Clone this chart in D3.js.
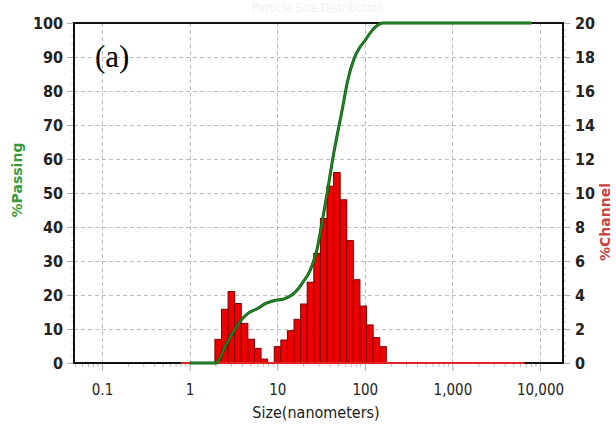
<!DOCTYPE html>
<html>
<head>
<meta charset="utf-8">
<script src="https://cdn.jsdelivr.net/npm/d3@7"></script>
<style>
	body { margin: 0; background: #fff; }
	svg { display: block; }
</style>
</head>
<body>
<div id="chart"></div>
<script>
// channel edges (nm) and %channel in each bin
var channelEdges = [1.945, 2.312, 2.750, 3.270, 3.889, 4.625, 5.500, 6.541, 7.778, 9.250, 11.00, 13.08, 15.56,
	18.50, 22.00, 26.16, 31.11, 37.00, 44.00, 52.33, 62.23, 74.00, 88.00, 104.7, 124.5, 148.0, 176.0];
var channelPct = [1.39, 3.16, 4.2, 3.5, 2.33, 1.4, 0.86, 0.23, 0, 0.96, 1.35, 1.9, 2.57, 3.47, 4.75, 6.45, 8.5,
	10.4, 11.2, 9.6, 7.2, 4.9, 3.35, 2.24, 1.49, 0.96];
// cumulative %passing curve
var passSize = [1.0, 2.0, 2.6, 3.25, 3.88, 4.64, 6.05, 7.21, 9.84, 11.75, 16.0, 19.1, 23.9, 28.5, 32.6, 37.2,
	42.5, 56.5, 63.3, 75.6, 86.4, 98.6, 117.6, 140.6, 160.6, 8000];
var passPct = [0, 0, 5.3, 9.7, 12.6, 14.6, 16.1, 17.4, 18.5, 18.8, 20.8, 23.3, 27.4, 33.5, 41.5, 50,
	59.2, 75.9, 82.7, 89.6, 92.6, 94.5, 97.4, 99.4, 100, 100];
// measured range (zero baseline)
var rangeSize = [0.79, 6650];
// tick labels
var xTicks = [0.1, 1, 10, 100, 1000, 10000];
var xTickLabels = ['0.1', '1', '10', '100', '1,000', '10,000'];
var leftTicks = [0, 10, 20, 30, 40, 50, 60, 70, 80, 90, 100];
var rightTicks = [0, 2, 4, 6, 8, 10, 12, 14, 16, 18, 20];

var width = 616, height = 428;
var plot = { left: 74, right: 563, top: 23, bottom: 363 };

var svg = d3.select('#chart').append('svg')
	.attr('width', width)
	.attr('height', height);

// scales
var x = d3.scaleLog()
	.domain([0.0479, 18300])
	.range([plot.left, plot.right]);
var yL = d3.scaleLinear().domain([0, 100]).range([plot.bottom, plot.top]);
var yR = d3.scaleLinear().domain([0, 20]).range([plot.bottom, plot.top]);

var font = '"DejaVu Sans Condensed", "DejaVu Sans", sans-serif';

// faint title at the very top
svg.append('text')
	.attr('x', 318).attr('y', 12)
	.attr('text-anchor', 'middle')
	.attr('font-family', font)
	.attr('font-size', 12)
	.attr('fill', '#efefef')
	.text('Particle Size Distribution');

// grid
var grid = svg.append('g').attr('stroke', '#bdbdbd').attr('stroke-dasharray', '4,3').attr('stroke-width', 1);
grid.selectAll('line.h')
	.data(leftTicks.slice(1, -1))
	.enter().append('line')
	.attr('x1', plot.left).attr('x2', plot.right)
	.attr('y1', function (d) { return yL(d) + 0.5; })
	.attr('y2', function (d) { return yL(d) + 0.5; });
grid.selectAll('line.v')
	.data(xTicks)
	.enter().append('line')
	.attr('x1', function (d) { return Math.round(x(d)) + 0.5; })
	.attr('x2', function (d) { return Math.round(x(d)) + 0.5; })
	.attr('y1', plot.top).attr('y2', plot.bottom);

// axes (ticks + labels)
var leftAxis = d3.axisLeft(yL).tickValues(leftTicks).tickSize(7).tickPadding(4);
var rightAxis = d3.axisRight(yR).tickValues(rightTicks).tickSize(7).tickPadding(5);
var bottomAxis = d3.axisBottom(x).tickValues(xTicks)
	.tickFormat(function (d, i) { return xTickLabels[i]; })
	.tickSize(8).tickPadding(13);

function styleAxis(g) {
	g.select('.domain').remove();
	g.selectAll('.tick line').attr('stroke', '#aaa');
	g.selectAll('.tick text')
		.attr('font-family', font)
		.attr('fill', '#222');
}

svg.append('g')
	.attr('transform', 'translate(' + plot.left + ',0)')
	.call(leftAxis).call(styleAxis)
	.selectAll('.tick text').attr('font-size', 16).attr('font-weight', 'bold');
svg.append('g')
	.attr('transform', 'translate(' + plot.right + ',0)')
	.call(rightAxis).call(styleAxis)
	.selectAll('.tick text').attr('font-size', 16).attr('font-weight', 'bold');
svg.append('g')
	.attr('transform', 'translate(0,' + plot.bottom + ')')
	.call(bottomAxis).call(styleAxis)
	.selectAll('.tick text').attr('font-size', 15);

// minor ticks
var minorX = [];
xTicks.concat([0.01]).forEach(function (d) {
	for (var k = 2; k <= 9; k++) {
		var v = d * k;
		if (v > x.domain()[0] && v < x.domain()[1]) minorX.push(v);
	}
});
svg.append('g').selectAll('line')
	.data(minorX)
	.enter().append('line')
	.attr('x1', function (d) { return x(d); })
	.attr('x2', function (d) { return x(d); })
	.attr('y1', plot.bottom).attr('y2', plot.bottom + 4)
	.attr('stroke', '#bbb');
var minorY = d3.range(0, 101, 2);
svg.append('g').selectAll('line')
	.data(minorY)
	.enter().append('line')
	.attr('x1', plot.left - 3).attr('x2', plot.left)
	.attr('y1', function (d) { return yL(d); })
	.attr('y2', function (d) { return yL(d); })
	.attr('stroke', '#ccc');
svg.append('g').selectAll('line')
	.data(minorY)
	.enter().append('line')
	.attr('x1', plot.right).attr('x2', plot.right + 3)
	.attr('y1', function (d) { return yL(d); })
	.attr('y2', function (d) { return yL(d); })
	.attr('stroke', '#ccc');

// frame
svg.append('rect')
	.attr('x', plot.left).attr('y', plot.top)
	.attr('width', plot.right - plot.left).attr('height', plot.bottom - plot.top)
	.attr('fill', 'none')
	.attr('stroke', '#111')
	.attr('stroke-width', 2);

// histogram bars
var bins = channelPct.map(function (v, i) {
	return { x0: channelEdges[i], x1: channelEdges[i + 1], value: v };
}).filter(function (d) { return d.value > 0; });
svg.append('g').selectAll('rect')
	.data(bins)
	.enter().append('rect')
	.attr('x', function (d) { return x(d.x0); })
	.attr('width', function (d) { return x(d.x1) - x(d.x0); })
	.attr('y', function (d) { return yR(d.value); })
	.attr('height', function (d) { return yR(0) - yR(d.value); })
	.attr('fill', '#ee0000')
	.attr('stroke', '#7a0000')
	.attr('stroke-width', 1);

// zero baseline over measured range
svg.append('line')
	.attr('x1', x(rangeSize[0])).attr('x2', x(rangeSize[1]))
	.attr('y1', plot.bottom).attr('y2', plot.bottom)
	.attr('stroke', '#e02424')
	.attr('stroke-width', 2);

// %passing curve
var passData = passSize.map(function (s, i) { return [s, passPct[i]]; });
var line = d3.line()
	.x(function (d) { return x(d[0]); })
	.y(function (d) { return yL(d[1]); })
	.curve(d3.curveMonotoneX);
svg.append('path')
	.datum(passData)
	.attr('d', line)
	.attr('fill', 'none')
	.attr('stroke', '#0f5a14')
	.attr('stroke-width', 3);
svg.append('path')
	.datum(passData)
	.attr('d', line)
	.attr('fill', 'none')
	.attr('stroke', '#228b22')
	.attr('stroke-width', 1.4);

// axis titles
svg.append('text')
	.attr('transform', 'translate(22,180) rotate(-90)')
	.attr('text-anchor', 'middle')
	.attr('font-family', '"DejaVu Sans", sans-serif')
	.attr('font-size', 14)
	.attr('font-weight', 'bold')
	.attr('fill', '#3a9a3a')
	.text('%Passing');
svg.append('text')
	.attr('transform', 'translate(610,222) rotate(-90)')
	.attr('text-anchor', 'middle')
	.attr('font-family', '"DejaVu Sans", sans-serif')
	.attr('font-size', 14)
	.attr('font-weight', 'bold')
	.attr('fill', '#c84040')
	.text('%Channel');
svg.append('text')
	.attr('x', 316).attr('y', 418)
	.attr('text-anchor', 'middle')
	.attr('font-family', font)
	.attr('font-size', 16)
	.attr('fill', '#1a1a1a')
	.text('Size(nanometers)');

// panel label
svg.append('text')
	.attr('x', 95).attr('y', 67)
	.attr('font-family', '"Liberation Serif", "Times New Roman", serif')
	.attr('font-size', 31)
	.attr('fill', '#000')
	.text('(a)');
</script>
</body>
</html>
